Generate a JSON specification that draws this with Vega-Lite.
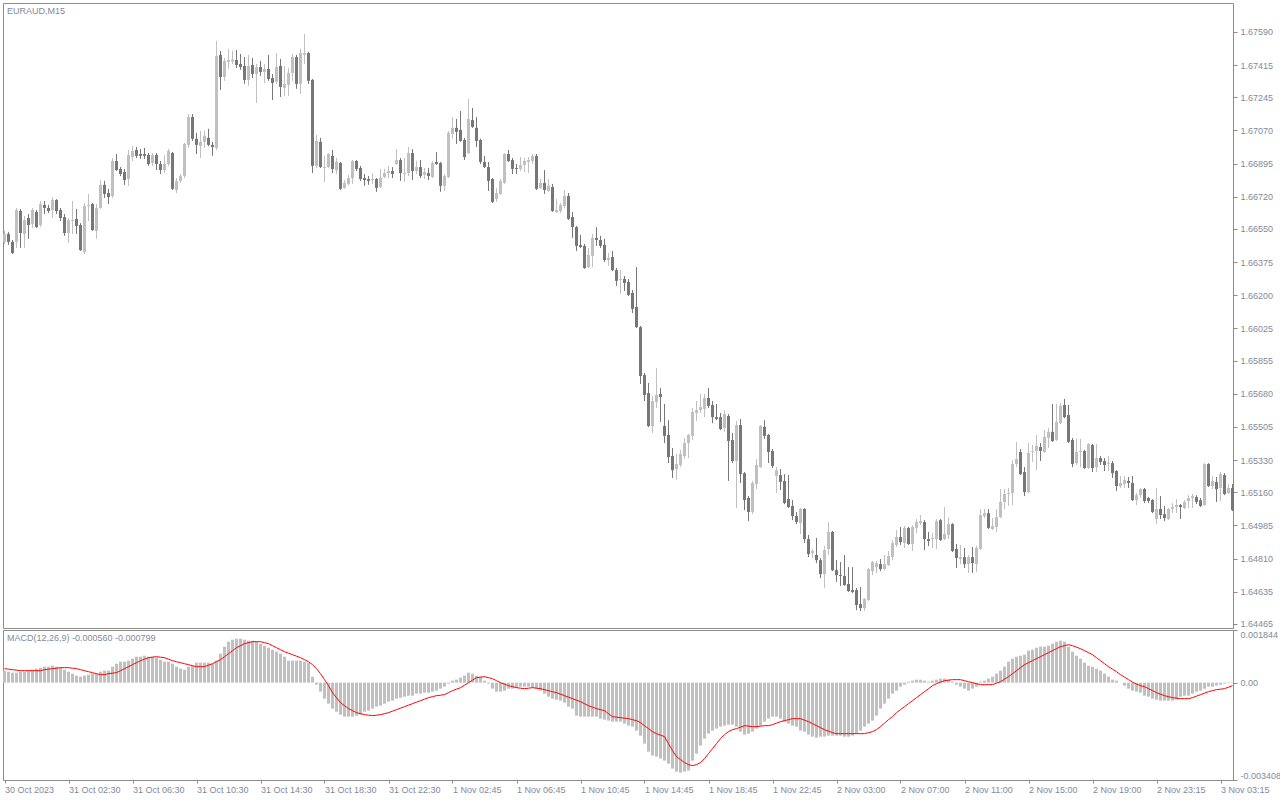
{
"$schema": "https://vega.github.io/schema/vega-lite/v6.json",
"padding": {"left": 2, "top": 2, "right": 0, "bottom": 0},
"autosize": {"type": "pad"},
"background": "white",
"spacing": 2,
"bounds": "flush",
"config": {"view": {"stroke": "#8c8c8c"}, "scale": {"continuousPadding": 0}, "axis": {"domain": false, "grid": false, "labelFont": "Liberation Sans", "labelFontSize": 9, "labelColor": "#7f8a9c", "tickColor": "#8c8c8c"}},
"data": {"values": [
{"i":0,"o":1.66482,"h":1.6654,"l":1.66471,"c":1.66524,"m":0.00042,"s":0.00049},
{"i":1,"o":1.66524,"h":1.66535,"l":1.66466,"c":1.66482,"m":0.000385,"s":0.000473},
{"i":2,"o":1.66482,"h":1.66492,"l":1.66418,"c":1.66423,"m":0.00035,"s":0.000455},
{"i":3,"o":1.66482,"h":1.66661,"l":1.6645,"c":1.6665,"m":0.00035,"s":0.000438},
{"i":4,"o":1.66645,"h":1.66656,"l":1.6645,"c":1.66529,"m":0.000385,"s":0.00042},
{"i":5,"o":1.66524,"h":1.66619,"l":1.6645,"c":1.66597,"m":0.000385,"s":0.00042},
{"i":6,"o":1.66608,"h":1.66629,"l":1.66498,"c":1.66571,"m":0.00042,"s":0.00042},
{"i":7,"o":1.66576,"h":1.66661,"l":1.66555,"c":1.6665,"m":0.000455,"s":0.00042},
{"i":8,"o":1.6664,"h":1.6665,"l":1.66555,"c":1.6656,"m":0.00049,"s":0.00042},
{"i":9,"o":1.66571,"h":1.66698,"l":1.6656,"c":1.66682,"m":0.000525,"s":0.00042},
{"i":10,"o":1.66677,"h":1.66698,"l":1.66629,"c":1.66661,"m":0.00056,"s":0.000455},
{"i":11,"o":1.66661,"h":1.66677,"l":1.66634,"c":1.66645,"m":0.00056,"s":0.000473},
{"i":12,"o":1.6665,"h":1.66719,"l":1.66608,"c":1.66703,"m":0.000595,"s":0.00049},
{"i":13,"o":1.66703,"h":1.66708,"l":1.66629,"c":1.66645,"m":0.00056,"s":0.000508},
{"i":14,"o":1.6665,"h":1.66661,"l":1.66592,"c":1.66608,"m":0.000525,"s":0.000525},
{"i":15,"o":1.66613,"h":1.66629,"l":1.66514,"c":1.66529,"m":0.000455,"s":0.000525},
{"i":16,"o":1.66529,"h":1.66608,"l":1.66476,"c":1.66597,"m":0.000385,"s":0.000525},
{"i":17,"o":1.66592,"h":1.66698,"l":1.66524,"c":1.66597,"m":0.000315,"s":0.000508},
{"i":18,"o":1.66603,"h":1.66656,"l":1.66524,"c":1.66566,"m":0.000245,"s":0.00049},
{"i":19,"o":1.66571,"h":1.66581,"l":1.66434,"c":1.66439,"m":0.00021,"s":0.000455},
{"i":20,"o":1.66429,"h":1.66687,"l":1.66418,"c":1.66672,"m":0.000245,"s":0.00042},
{"i":21,"o":1.66672,"h":1.66735,"l":1.66592,"c":1.66677,"m":0.00028,"s":0.000385},
{"i":22,"o":1.66682,"h":1.66687,"l":1.6654,"c":1.66544,"m":0.000315,"s":0.00035},
{"i":23,"o":1.6654,"h":1.66682,"l":1.66498,"c":1.66661,"m":0.000315,"s":0.000315},
{"i":24,"o":1.66661,"h":1.66808,"l":1.66656,"c":1.66783,"m":0.000385,"s":0.00028},
{"i":25,"o":1.66783,"h":1.66804,"l":1.66714,"c":1.66735,"m":0.00042,"s":0.00028},
{"i":26,"o":1.6674,"h":1.66762,"l":1.66682,"c":1.66719,"m":0.00042,"s":0.000315},
{"i":27,"o":1.66724,"h":1.66925,"l":1.66714,"c":1.66909,"m":0.00056,"s":0.000333},
{"i":28,"o":1.66909,"h":1.66946,"l":1.66856,"c":1.66861,"m":0.000665,"s":0.00035},
{"i":29,"o":1.66867,"h":1.66877,"l":1.6683,"c":1.6684,"m":0.000735,"s":0.00042},
{"i":30,"o":1.66851,"h":1.66867,"l":1.66783,"c":1.66808,"m":0.000735,"s":0.00049},
{"i":31,"o":1.66814,"h":1.66967,"l":1.66778,"c":1.66941,"m":0.00077,"s":0.00056},
{"i":32,"o":1.6693,"h":1.66988,"l":1.66909,"c":1.66962,"m":0.00084,"s":0.00063},
{"i":33,"o":1.66967,"h":1.66983,"l":1.66925,"c":1.66936,"m":0.00091,"s":0.0007},
{"i":34,"o":1.66946,"h":1.66972,"l":1.6692,"c":1.66936,"m":0.00091,"s":0.00077},
{"i":35,"o":1.66946,"h":1.66978,"l":1.6692,"c":1.66936,"m":0.000945,"s":0.000823},
{"i":36,"o":1.66941,"h":1.66951,"l":1.66883,"c":1.66893,"m":0.00091,"s":0.000875},
{"i":37,"o":1.66898,"h":1.66951,"l":1.66883,"c":1.66941,"m":0.00091,"s":0.000893},
{"i":38,"o":1.66941,"h":1.66951,"l":1.66861,"c":1.66893,"m":0.000875,"s":0.00091},
{"i":39,"o":1.66893,"h":1.66909,"l":1.6684,"c":1.66861,"m":0.000805,"s":0.000893},
{"i":40,"o":1.66861,"h":1.66941,"l":1.66845,"c":1.66893,"m":0.000735,"s":0.000875},
{"i":41,"o":1.66893,"h":1.66972,"l":1.66883,"c":1.66962,"m":0.000735,"s":0.000823},
{"i":42,"o":1.66951,"h":1.66956,"l":1.66756,"c":1.66762,"m":0.000665,"s":0.00077},
{"i":43,"o":1.66756,"h":1.66819,"l":1.6674,"c":1.66804,"m":0.00056,"s":0.000735},
{"i":44,"o":1.66804,"h":1.6684,"l":1.66793,"c":1.6683,"m":0.00049,"s":0.0007},
{"i":45,"o":1.6683,"h":1.67004,"l":1.66819,"c":1.66999,"m":0.000455,"s":0.000665},
{"i":46,"o":1.66994,"h":1.67157,"l":1.66978,"c":1.67141,"m":0.00056,"s":0.00063},
{"i":47,"o":1.67141,"h":1.67157,"l":1.67015,"c":1.67026,"m":0.000595,"s":0.000595},
{"i":48,"o":1.67026,"h":1.67057,"l":1.66946,"c":1.66994,"m":0.0007,"s":0.00056},
{"i":49,"o":1.66988,"h":1.67068,"l":1.66925,"c":1.6701,"m":0.0007,"s":0.00056},
{"i":50,"o":1.6701,"h":1.67068,"l":1.66978,"c":1.67042,"m":0.0007,"s":0.00056},
{"i":51,"o":1.67031,"h":1.67079,"l":1.66988,"c":1.66994,"m":0.0007,"s":0.000613},
{"i":52,"o":1.66994,"h":1.6701,"l":1.66936,"c":1.66983,"m":0.000665,"s":0.000665},
{"i":53,"o":1.66978,"h":1.67543,"l":1.66967,"c":1.67464,"m":0.00077,"s":0.000735},
{"i":54,"o":1.67469,"h":1.6749,"l":1.67284,"c":1.67352,"m":0.001015,"s":0.000805},
{"i":55,"o":1.67352,"h":1.67453,"l":1.67332,"c":1.67437,"m":0.00126,"s":0.00091},
{"i":56,"o":1.67432,"h":1.67501,"l":1.67395,"c":1.67442,"m":0.001435,"s":0.001015},
{"i":57,"o":1.67435,"h":1.6749,"l":1.67421,"c":1.67445,"m":0.001505,"s":0.00112},
{"i":58,"o":1.67442,"h":1.67495,"l":1.674,"c":1.67416,"m":0.00154,"s":0.001225},
{"i":59,"o":1.67421,"h":1.67474,"l":1.6739,"c":1.67405,"m":0.00154,"s":0.001295},
{"i":60,"o":1.67411,"h":1.67458,"l":1.67316,"c":1.67337,"m":0.001505,"s":0.001365},
{"i":61,"o":1.67337,"h":1.67469,"l":1.67306,"c":1.67411,"m":0.00147,"s":0.0014},
{"i":62,"o":1.67416,"h":1.67453,"l":1.67347,"c":1.67368,"m":0.00147,"s":0.001435},
{"i":63,"o":1.67368,"h":1.67421,"l":1.67215,"c":1.67405,"m":0.001435,"s":0.001435},
{"i":64,"o":1.67405,"h":1.67437,"l":1.67358,"c":1.67379,"m":0.001365,"s":0.001435},
{"i":65,"o":1.67379,"h":1.67421,"l":1.67321,"c":1.67395,"m":0.001295,"s":0.0014},
{"i":66,"o":1.67395,"h":1.67469,"l":1.67332,"c":1.67342,"m":0.001225,"s":0.001365},
{"i":67,"o":1.67347,"h":1.67368,"l":1.67231,"c":1.67321,"m":0.001155,"s":0.001295},
{"i":68,"o":1.67327,"h":1.67479,"l":1.67316,"c":1.67405,"m":0.001085,"s":0.001225},
{"i":69,"o":1.67411,"h":1.67448,"l":1.67247,"c":1.673,"m":0.001015,"s":0.001155},
{"i":70,"o":1.67295,"h":1.67411,"l":1.67252,"c":1.67316,"m":0.00091,"s":0.001085},
{"i":71,"o":1.67311,"h":1.674,"l":1.67252,"c":1.67374,"m":0.00077,"s":0.001033},
{"i":72,"o":1.67374,"h":1.67474,"l":1.67332,"c":1.67458,"m":0.00077,"s":0.00098},
{"i":73,"o":1.67458,"h":1.67469,"l":1.6729,"c":1.67316,"m":0.00077,"s":0.000928},
{"i":74,"o":1.67316,"h":1.67501,"l":1.67263,"c":1.67479,"m":0.00077,"s":0.000875},
{"i":75,"o":1.67469,"h":1.6758,"l":1.67421,"c":1.67479,"m":0.000735,"s":0.000805},
{"i":76,"o":1.67479,"h":1.67485,"l":1.67316,"c":1.67332,"m":0.0007,"s":0.000735},
{"i":77,"o":1.67337,"h":1.67342,"l":1.66845,"c":1.66883,"m":0.00021,"s":0.00063},
{"i":78,"o":1.66883,"h":1.67047,"l":1.66872,"c":1.67015,"m":-0.00007,"s":0.00049},
{"i":79,"o":1.6701,"h":1.67031,"l":1.66872,"c":1.66877,"m":-0.000315,"s":0.000315},
{"i":80,"o":1.66872,"h":1.66936,"l":1.66798,"c":1.66877,"m":-0.00056,"s":0.000105},
{"i":81,"o":1.66877,"h":1.66951,"l":1.66872,"c":1.66946,"m":-0.000735,"s":-0.000105},
{"i":82,"o":1.66936,"h":1.66967,"l":1.66845,"c":1.66867,"m":-0.00091,"s":-0.00035},
{"i":83,"o":1.66861,"h":1.66925,"l":1.6684,"c":1.66904,"m":-0.001015,"s":-0.000525},
{"i":84,"o":1.66898,"h":1.66904,"l":1.66756,"c":1.66762,"m":-0.00112,"s":-0.0007},
{"i":85,"o":1.66767,"h":1.66808,"l":1.66762,"c":1.66793,"m":-0.00119,"s":-0.000805},
{"i":86,"o":1.66788,"h":1.66835,"l":1.66778,"c":1.66819,"m":-0.00119,"s":-0.00091},
{"i":87,"o":1.66819,"h":1.66914,"l":1.66788,"c":1.66909,"m":-0.00119,"s":-0.00098},
{"i":88,"o":1.66909,"h":1.66914,"l":1.66856,"c":1.66867,"m":-0.001155,"s":-0.00105},
{"i":89,"o":1.66872,"h":1.66883,"l":1.66804,"c":1.66814,"m":-0.00112,"s":-0.001085},
{"i":90,"o":1.66819,"h":1.6684,"l":1.66778,"c":1.66808,"m":-0.001015,"s":-0.00112},
{"i":91,"o":1.66814,"h":1.6683,"l":1.66783,"c":1.66804,"m":-0.00098,"s":-0.001138},
{"i":92,"o":1.66808,"h":1.66845,"l":1.66788,"c":1.66814,"m":-0.00091,"s":-0.001155},
{"i":93,"o":1.66814,"h":1.66819,"l":1.66746,"c":1.66767,"m":-0.00084,"s":-0.001138},
{"i":94,"o":1.66772,"h":1.66867,"l":1.66767,"c":1.66819,"m":-0.000805,"s":-0.00112},
{"i":95,"o":1.66824,"h":1.66867,"l":1.66819,"c":1.66845,"m":-0.000735,"s":-0.001085},
{"i":96,"o":1.66845,"h":1.66883,"l":1.66819,"c":1.66856,"m":-0.000665,"s":-0.00105},
{"i":97,"o":1.66856,"h":1.66877,"l":1.66819,"c":1.6684,"m":-0.00063,"s":-0.000998},
{"i":98,"o":1.66893,"h":1.66972,"l":1.66888,"c":1.66914,"m":-0.00056,"s":-0.000945},
{"i":99,"o":1.66914,"h":1.66925,"l":1.66804,"c":1.66845,"m":-0.000525,"s":-0.000893},
{"i":100,"o":1.6684,"h":1.66925,"l":1.66798,"c":1.66845,"m":-0.00049,"s":-0.00084},
{"i":101,"o":1.66845,"h":1.66983,"l":1.6683,"c":1.66951,"m":-0.000455,"s":-0.000788},
{"i":102,"o":1.66951,"h":1.66972,"l":1.66808,"c":1.66856,"m":-0.000455,"s":-0.000735},
{"i":103,"o":1.66856,"h":1.66909,"l":1.6684,"c":1.66877,"m":-0.000385,"s":-0.000683},
{"i":104,"o":1.66877,"h":1.66914,"l":1.66819,"c":1.6683,"m":-0.000385,"s":-0.00063},
{"i":105,"o":1.66835,"h":1.66872,"l":1.66814,"c":1.66851,"m":-0.00035,"s":-0.000578},
{"i":106,"o":1.66845,"h":1.66872,"l":1.66808,"c":1.6683,"m":-0.00035,"s":-0.000525},
{"i":107,"o":1.66824,"h":1.66909,"l":1.66819,"c":1.66898,"m":-0.000315,"s":-0.00049},
{"i":108,"o":1.66904,"h":1.66956,"l":1.66888,"c":1.66893,"m":-0.00028,"s":-0.000455},
{"i":109,"o":1.66898,"h":1.66904,"l":1.66746,"c":1.66778,"m":-0.00021,"s":-0.000438},
{"i":110,"o":1.66778,"h":1.6684,"l":1.66751,"c":1.6683,"m":-0.00014,"s":-0.00042},
{"i":111,"o":1.66824,"h":1.67068,"l":1.66819,"c":1.67057,"m":-0.000035,"s":-0.00035},
{"i":112,"o":1.67052,"h":1.67141,"l":1.67026,"c":1.67084,"m":0.00007,"s":-0.00028},
{"i":113,"o":1.67084,"h":1.67131,"l":1.66999,"c":1.67063,"m":0.000105,"s":-0.000228},
{"i":114,"o":1.67073,"h":1.67173,"l":1.6701,"c":1.67015,"m":0.000175,"s":-0.000175},
{"i":115,"o":1.6702,"h":1.67031,"l":1.66914,"c":1.6693,"m":0.000245,"s":-0.000088},
{"i":116,"o":1.66951,"h":1.67237,"l":1.66946,"c":1.67131,"m":0.00035,"s":0},
{"i":117,"o":1.67125,"h":1.67189,"l":1.67084,"c":1.67089,"m":0.000315,"s":0.000088},
{"i":118,"o":1.67084,"h":1.67141,"l":1.66983,"c":1.67015,"m":0.000245,"s":0.000175},
{"i":119,"o":1.6702,"h":1.67026,"l":1.66893,"c":1.66904,"m":0.00021,"s":0.000193},
{"i":120,"o":1.66904,"h":1.66936,"l":1.66872,"c":1.66877,"m":0.00007,"s":0.00021},
{"i":121,"o":1.66877,"h":1.66904,"l":1.66751,"c":1.66804,"m":-0.000035,"s":0.000175},
{"i":122,"o":1.66814,"h":1.66819,"l":1.66687,"c":1.66693,"m":-0.00021,"s":0.00014},
{"i":123,"o":1.66708,"h":1.66767,"l":1.66693,"c":1.6674,"m":-0.000315,"s":0.00007},
{"i":124,"o":1.66735,"h":1.66814,"l":1.6673,"c":1.66804,"m":-0.000315,"s":0},
{"i":125,"o":1.66793,"h":1.66951,"l":1.66788,"c":1.66946,"m":-0.00028,"s":-0.000053},
{"i":126,"o":1.66946,"h":1.66967,"l":1.66904,"c":1.66909,"m":-0.00021,"s":-0.000105},
{"i":127,"o":1.66914,"h":1.66925,"l":1.6684,"c":1.66867,"m":-0.00021,"s":-0.00014},
{"i":128,"o":1.66872,"h":1.66893,"l":1.6684,"c":1.66867,"m":-0.000175,"s":-0.000175},
{"i":129,"o":1.66867,"h":1.6693,"l":1.66856,"c":1.66888,"m":-0.00014,"s":-0.000193},
{"i":130,"o":1.66888,"h":1.66925,"l":1.66851,"c":1.66909,"m":-0.00014,"s":-0.00021},
{"i":131,"o":1.66904,"h":1.6693,"l":1.66845,"c":1.66914,"m":-0.00014,"s":-0.000193},
{"i":132,"o":1.66909,"h":1.66946,"l":1.66893,"c":1.66936,"m":-0.000175,"s":-0.000175},
{"i":133,"o":1.66936,"h":1.66946,"l":1.66756,"c":1.66762,"m":-0.00021,"s":-0.000193},
{"i":134,"o":1.66767,"h":1.66814,"l":1.66762,"c":1.66793,"m":-0.00028,"s":-0.00021},
{"i":135,"o":1.66793,"h":1.66861,"l":1.66735,"c":1.66756,"m":-0.000385,"s":-0.000245},
{"i":136,"o":1.66751,"h":1.66814,"l":1.66746,"c":1.66778,"m":-0.00049,"s":-0.00028},
{"i":137,"o":1.66772,"h":1.66788,"l":1.6664,"c":1.66645,"m":-0.00056,"s":-0.000315},
{"i":138,"o":1.6664,"h":1.66708,"l":1.66634,"c":1.6665,"m":-0.000595,"s":-0.00035},
{"i":139,"o":1.66645,"h":1.66687,"l":1.66634,"c":1.66677,"m":-0.00063,"s":-0.000403},
{"i":140,"o":1.66672,"h":1.66756,"l":1.66661,"c":1.66724,"m":-0.0007,"s":-0.000455},
{"i":141,"o":1.66724,"h":1.6674,"l":1.66597,"c":1.66603,"m":-0.00084,"s":-0.000508},
{"i":142,"o":1.66613,"h":1.6664,"l":1.66503,"c":1.6656,"m":-0.00091,"s":-0.00056},
{"i":143,"o":1.6656,"h":1.66566,"l":1.66434,"c":1.66461,"m":-0.001155,"s":-0.000613},
{"i":144,"o":1.66466,"h":1.66519,"l":1.6645,"c":1.66455,"m":-0.00119,"s":-0.000665},
{"i":145,"o":1.66461,"h":1.66471,"l":1.66339,"c":1.66344,"m":-0.00119,"s":-0.000735},
{"i":146,"o":1.66349,"h":1.6645,"l":1.66344,"c":1.66413,"m":-0.00119,"s":-0.000805},
{"i":147,"o":1.66408,"h":1.66524,"l":1.66349,"c":1.66503,"m":-0.00119,"s":-0.000858},
{"i":148,"o":1.66503,"h":1.6656,"l":1.66461,"c":1.66492,"m":-0.00119,"s":-0.00091},
{"i":149,"o":1.66492,"h":1.66514,"l":1.6645,"c":1.66461,"m":-0.00126,"s":-0.000945},
{"i":150,"o":1.66466,"h":1.66498,"l":1.66376,"c":1.66386,"m":-0.001295,"s":-0.00098},
{"i":151,"o":1.66386,"h":1.66423,"l":1.66355,"c":1.66397,"m":-0.00133,"s":-0.001085},
{"i":152,"o":1.66402,"h":1.66434,"l":1.66328,"c":1.66333,"m":-0.001365,"s":-0.00119},
{"i":153,"o":1.66333,"h":1.66344,"l":1.6625,"c":1.66276,"m":-0.001365,"s":-0.001208},
{"i":154,"o":1.66281,"h":1.66333,"l":1.66207,"c":1.66286,"m":-0.001365,"s":-0.001225},
{"i":155,"o":1.66286,"h":1.66302,"l":1.66223,"c":1.66265,"m":-0.001435,"s":-0.001243},
{"i":156,"o":1.6627,"h":1.66286,"l":1.66196,"c":1.66202,"m":-0.001505,"s":-0.00126},
{"i":157,"o":1.66212,"h":1.66228,"l":1.66106,"c":1.66128,"m":-0.00154,"s":-0.001295},
{"i":158,"o":1.66138,"h":1.66349,"l":1.66027,"c":1.66032,"m":-0.00168,"s":-0.00133},
{"i":159,"o":1.66032,"h":1.66038,"l":1.65732,"c":1.65774,"m":-0.001855,"s":-0.0014},
{"i":160,"o":1.65779,"h":1.6579,"l":1.65642,"c":1.65674,"m":-0.002135,"s":-0.001505},
{"i":161,"o":1.65684,"h":1.65737,"l":1.65505,"c":1.6551,"m":-0.002415,"s":-0.00161},
{"i":162,"o":1.6551,"h":1.65669,"l":1.65473,"c":1.65642,"m":-0.002555,"s":-0.001715},
{"i":163,"o":1.65637,"h":1.65816,"l":1.65605,"c":1.65674,"m":-0.00259,"s":-0.001785},
{"i":164,"o":1.65679,"h":1.65711,"l":1.65531,"c":1.65663,"m":-0.00266,"s":-0.001838},
{"i":165,"o":1.6551,"h":1.65626,"l":1.6542,"c":1.65458,"m":-0.00273,"s":-0.00189},
{"i":166,"o":1.65463,"h":1.65541,"l":1.65314,"c":1.65346,"m":-0.002835,"s":-0.002135},
{"i":167,"o":1.65352,"h":1.65394,"l":1.65235,"c":1.65277,"m":-0.00301,"s":-0.00238},
{"i":168,"o":1.65283,"h":1.65362,"l":1.65225,"c":1.65309,"m":-0.003115,"s":-0.00259},
{"i":169,"o":1.65304,"h":1.65384,"l":1.65293,"c":1.65362,"m":-0.00315,"s":-0.002695},
{"i":170,"o":1.65352,"h":1.65447,"l":1.65336,"c":1.6542,"m":-0.003115,"s":-0.0028},
{"i":171,"o":1.6542,"h":1.65468,"l":1.65341,"c":1.65463,"m":-0.00308,"s":-0.00287},
{"i":172,"o":1.65458,"h":1.65605,"l":1.65436,"c":1.65584,"m":-0.00273,"s":-0.002905},
{"i":173,"o":1.65579,"h":1.65642,"l":1.65536,"c":1.65594,"m":-0.002485,"s":-0.00287},
{"i":174,"o":1.65594,"h":1.65679,"l":1.65579,"c":1.6561,"m":-0.002205,"s":-0.0028},
{"i":175,"o":1.656,"h":1.65679,"l":1.65557,"c":1.65658,"m":-0.00196,"s":-0.00266},
{"i":176,"o":1.65658,"h":1.65711,"l":1.65605,"c":1.65616,"m":-0.001785,"s":-0.002485},
{"i":177,"o":1.65621,"h":1.65642,"l":1.65525,"c":1.65557,"m":-0.00168,"s":-0.00231},
{"i":178,"o":1.65557,"h":1.65626,"l":1.65541,"c":1.65547,"m":-0.00161,"s":-0.002135},
{"i":179,"o":1.65557,"h":1.65579,"l":1.65489,"c":1.65494,"m":-0.00154,"s":-0.00196},
{"i":180,"o":1.65499,"h":1.65594,"l":1.65479,"c":1.65573,"m":-0.001505,"s":-0.00182},
{"i":181,"o":1.65563,"h":1.65573,"l":1.6522,"c":1.65431,"m":-0.00147,"s":-0.001715},
{"i":182,"o":1.65436,"h":1.65473,"l":1.65314,"c":1.65325,"m":-0.00147,"s":-0.001645},
{"i":183,"o":1.65325,"h":1.65536,"l":1.65077,"c":1.65515,"m":-0.00154,"s":-0.00161},
{"i":184,"o":1.65515,"h":1.65547,"l":1.65209,"c":1.65256,"m":-0.001715,"s":-0.001558},
{"i":185,"o":1.65261,"h":1.65267,"l":1.65066,"c":1.65119,"m":-0.00182,"s":-0.001505},
{"i":186,"o":1.6513,"h":1.6514,"l":1.65008,"c":1.65056,"m":-0.001785,"s":-0.001523},
{"i":187,"o":1.65056,"h":1.6522,"l":1.65045,"c":1.65209,"m":-0.001715,"s":-0.00154},
{"i":188,"o":1.65204,"h":1.65336,"l":1.65177,"c":1.65304,"m":-0.00161,"s":-0.00154},
{"i":189,"o":1.65293,"h":1.65515,"l":1.65288,"c":1.6551,"m":-0.001505,"s":-0.001523},
{"i":190,"o":1.65505,"h":1.65541,"l":1.65442,"c":1.65458,"m":-0.001365,"s":-0.001505},
{"i":191,"o":1.65463,"h":1.65468,"l":1.65314,"c":1.65373,"m":-0.00126,"s":-0.001505},
{"i":192,"o":1.65378,"h":1.65389,"l":1.65288,"c":1.65299,"m":-0.00119,"s":-0.00147},
{"i":193,"o":1.65246,"h":1.65293,"l":1.65156,"c":1.65277,"m":-0.00119,"s":-0.001418},
{"i":194,"o":1.65251,"h":1.65283,"l":1.65172,"c":1.65215,"m":-0.00126,"s":-0.001365},
{"i":195,"o":1.6522,"h":1.65256,"l":1.65098,"c":1.65103,"m":-0.001365,"s":-0.00133},
{"i":196,"o":1.65124,"h":1.65251,"l":1.65077,"c":1.65082,"m":-0.001435,"s":-0.001295},
{"i":197,"o":1.65088,"h":1.65119,"l":1.65013,"c":1.65035,"m":-0.001505,"s":-0.00126},
{"i":198,"o":1.65035,"h":1.65056,"l":1.64992,"c":1.65003,"m":-0.00154,"s":-0.00126},
{"i":199,"o":1.64997,"h":1.65077,"l":1.6494,"c":1.65072,"m":-0.00168,"s":-0.00126},
{"i":200,"o":1.65072,"h":1.65077,"l":1.64892,"c":1.64913,"m":-0.001715,"s":-0.001313},
{"i":201,"o":1.64913,"h":1.64935,"l":1.64818,"c":1.64834,"m":-0.00182,"s":-0.001365},
{"i":202,"o":1.64839,"h":1.64861,"l":1.64813,"c":1.6485,"m":-0.00189,"s":-0.001435},
{"i":203,"o":1.64829,"h":1.64919,"l":1.64786,"c":1.64802,"m":-0.001925,"s":-0.001505},
{"i":204,"o":1.64802,"h":1.64813,"l":1.64707,"c":1.64728,"m":-0.00189,"s":-0.001575},
{"i":205,"o":1.64728,"h":1.64877,"l":1.64655,"c":1.64855,"m":-0.00189,"s":-0.001645},
{"i":206,"o":1.64861,"h":1.65003,"l":1.64829,"c":1.64951,"m":-0.001855,"s":-0.001698},
{"i":207,"o":1.64951,"h":1.64956,"l":1.64744,"c":1.64749,"m":-0.001855,"s":-0.00175},
{"i":208,"o":1.64749,"h":1.64802,"l":1.64687,"c":1.64723,"m":-0.001855,"s":-0.001785},
{"i":209,"o":1.64723,"h":1.64792,"l":1.64666,"c":1.64718,"m":-0.001855,"s":-0.001785},
{"i":210,"o":1.64718,"h":1.64829,"l":1.64666,"c":1.64671,"m":-0.00189,"s":-0.001785},
{"i":211,"o":1.64676,"h":1.64765,"l":1.64634,"c":1.64639,"m":-0.00189,"s":-0.001785},
{"i":212,"o":1.64644,"h":1.64765,"l":1.64628,"c":1.64634,"m":-0.001855,"s":-0.001785},
{"i":213,"o":1.64644,"h":1.64655,"l":1.64538,"c":1.64565,"m":-0.001785,"s":-0.001785},
{"i":214,"o":1.6457,"h":1.6466,"l":1.64533,"c":1.64549,"m":-0.00168,"s":-0.001785},
{"i":215,"o":1.64549,"h":1.64602,"l":1.64533,"c":1.64597,"m":-0.00154,"s":-0.001785},
{"i":216,"o":1.64591,"h":1.6476,"l":1.64586,"c":1.64755,"m":-0.001435,"s":-0.00175},
{"i":217,"o":1.64744,"h":1.64797,"l":1.64723,"c":1.64792,"m":-0.00133,"s":-0.001715},
{"i":218,"o":1.64765,"h":1.64797,"l":1.64734,"c":1.64786,"m":-0.001155,"s":-0.001645},
{"i":219,"o":1.64781,"h":1.64808,"l":1.64744,"c":1.64755,"m":-0.00091,"s":-0.00154},
{"i":220,"o":1.64755,"h":1.64829,"l":1.64749,"c":1.64781,"m":-0.000735,"s":-0.001418},
{"i":221,"o":1.64776,"h":1.6485,"l":1.64771,"c":1.64824,"m":-0.00056,"s":-0.001295},
{"i":222,"o":1.64818,"h":1.64908,"l":1.64802,"c":1.64892,"m":-0.000385,"s":-0.00119},
{"i":223,"o":1.64882,"h":1.64961,"l":1.64871,"c":1.64924,"m":-0.00028,"s":-0.00105},
{"i":224,"o":1.64924,"h":1.64977,"l":1.64882,"c":1.64897,"m":-0.00014,"s":-0.000945},
{"i":225,"o":1.64892,"h":1.64982,"l":1.64866,"c":1.64972,"m":-0.00007,"s":-0.00084},
{"i":226,"o":1.64972,"h":1.64977,"l":1.64882,"c":1.64887,"m":0.000035,"s":-0.000735},
{"i":227,"o":1.64887,"h":1.64987,"l":1.6485,"c":1.64977,"m":0.00007,"s":-0.00063},
{"i":228,"o":1.64972,"h":1.65019,"l":1.64945,"c":1.65003,"m":0.000105,"s":-0.000525},
{"i":229,"o":1.64997,"h":1.6504,"l":1.64987,"c":1.65008,"m":0.000105,"s":-0.00042},
{"i":230,"o":1.65003,"h":1.65013,"l":1.64855,"c":1.64913,"m":0.00007,"s":-0.000315},
{"i":231,"o":1.64913,"h":1.64951,"l":1.64876,"c":1.64903,"m":0.000035,"s":-0.00021},
{"i":232,"o":1.64913,"h":1.64945,"l":1.64866,"c":1.64919,"m":0.00007,"s":-0.000105},
{"i":233,"o":1.64913,"h":1.65019,"l":1.64861,"c":1.65008,"m":0.000105,"s":-0.000035},
{"i":234,"o":1.65013,"h":1.65019,"l":1.64903,"c":1.64908,"m":0.00014,"s":0.000018},
{"i":235,"o":1.64913,"h":1.65082,"l":1.64908,"c":1.6494,"m":0.00014,"s":0.00007},
{"i":236,"o":1.64935,"h":1.65029,"l":1.64913,"c":1.64992,"m":0.000105,"s":0.000088},
{"i":237,"o":1.64992,"h":1.64997,"l":1.64845,"c":1.6485,"m":0.000035,"s":0.000105},
{"i":238,"o":1.64861,"h":1.64887,"l":1.6476,"c":1.64813,"m":-0.00007,"s":0.000105},
{"i":239,"o":1.64808,"h":1.64882,"l":1.64781,"c":1.64818,"m":-0.00014,"s":0.000105},
{"i":240,"o":1.64818,"h":1.64866,"l":1.6476,"c":1.64781,"m":-0.00021,"s":0.00007},
{"i":241,"o":1.64781,"h":1.64829,"l":1.64734,"c":1.64818,"m":-0.00028,"s":0.000035},
{"i":242,"o":1.64818,"h":1.64871,"l":1.64734,"c":1.64786,"m":-0.00021,"s":0},
{"i":243,"o":1.64781,"h":1.64877,"l":1.64739,"c":1.64866,"m":-0.00014,"s":-0.000035},
{"i":244,"o":1.64861,"h":1.65072,"l":1.64855,"c":1.6504,"m":0.000035,"s":-0.00007},
{"i":245,"o":1.65035,"h":1.65072,"l":1.65024,"c":1.6505,"m":0.00007,"s":-0.00007},
{"i":246,"o":1.6505,"h":1.65072,"l":1.64966,"c":1.64972,"m":0.00014,"s":-0.00007},
{"i":247,"o":1.64966,"h":1.65024,"l":1.64961,"c":1.64982,"m":0.00021,"s":-0.00007},
{"i":248,"o":1.64977,"h":1.65072,"l":1.64951,"c":1.65029,"m":0.000315,"s":-0.000018},
{"i":249,"o":1.65029,"h":1.65177,"l":1.65024,"c":1.65109,"m":0.00042,"s":0.000035},
{"i":250,"o":1.65109,"h":1.65177,"l":1.65072,"c":1.65151,"m":0.00056,"s":0.000123},
{"i":251,"o":1.65151,"h":1.65183,"l":1.65088,"c":1.65156,"m":0.000735,"s":0.00021},
{"i":252,"o":1.65156,"h":1.6533,"l":1.65093,"c":1.65309,"m":0.00084,"s":0.000315},
{"i":253,"o":1.65309,"h":1.65426,"l":1.65293,"c":1.65336,"m":0.00091,"s":0.00042},
{"i":254,"o":1.65373,"h":1.65389,"l":1.65251,"c":1.65256,"m":0.000945,"s":0.000525},
{"i":255,"o":1.65267,"h":1.65293,"l":1.6514,"c":1.65161,"m":0.00098,"s":0.00063},
{"i":256,"o":1.65161,"h":1.6542,"l":1.65156,"c":1.65368,"m":0.00112,"s":0.0007},
{"i":257,"o":1.65373,"h":1.6541,"l":1.6532,"c":1.65378,"m":0.001155,"s":0.00077},
{"i":258,"o":1.65378,"h":1.65463,"l":1.65277,"c":1.65405,"m":0.001225,"s":0.00084},
{"i":259,"o":1.65399,"h":1.6542,"l":1.65325,"c":1.65378,"m":0.00126,"s":0.00091},
{"i":260,"o":1.65373,"h":1.65489,"l":1.65368,"c":1.65452,"m":0.00126,"s":0.00098},
{"i":261,"o":1.65447,"h":1.65499,"l":1.65394,"c":1.65479,"m":0.001295,"s":0.00105},
{"i":262,"o":1.65479,"h":1.65626,"l":1.65426,"c":1.65431,"m":0.001365,"s":0.00112},
{"i":263,"o":1.65436,"h":1.65626,"l":1.65431,"c":1.65531,"m":0.001435,"s":0.00119},
{"i":264,"o":1.65525,"h":1.65631,"l":1.6552,"c":1.65616,"m":0.00147,"s":0.00126},
{"i":265,"o":1.65621,"h":1.65653,"l":1.65552,"c":1.65557,"m":0.001435,"s":0.001295},
{"i":266,"o":1.65568,"h":1.65621,"l":1.6542,"c":1.65426,"m":0.00126,"s":0.00133},
{"i":267,"o":1.65436,"h":1.65447,"l":1.65293,"c":1.65309,"m":0.001085,"s":0.001295},
{"i":268,"o":1.65314,"h":1.65442,"l":1.65304,"c":1.65373,"m":0.000945,"s":0.001243},
{"i":269,"o":1.65373,"h":1.65442,"l":1.65293,"c":1.65378,"m":0.00084,"s":0.00119},
{"i":270,"o":1.65378,"h":1.65384,"l":1.65283,"c":1.65288,"m":0.0007,"s":0.00112},
{"i":271,"o":1.65288,"h":1.6542,"l":1.65283,"c":1.65415,"m":0.000595,"s":0.00105},
{"i":272,"o":1.6541,"h":1.65415,"l":1.65267,"c":1.65288,"m":0.00056,"s":0.00098},
{"i":273,"o":1.65293,"h":1.65415,"l":1.65267,"c":1.65341,"m":0.00049,"s":0.000875},
{"i":274,"o":1.65341,"h":1.65352,"l":1.65304,"c":1.6532,"m":0.00042,"s":0.00077},
{"i":275,"o":1.65325,"h":1.65341,"l":1.65272,"c":1.65304,"m":0.000315,"s":0.000665},
{"i":276,"o":1.65309,"h":1.65352,"l":1.65272,"c":1.65314,"m":0.00021,"s":0.00056},
{"i":277,"o":1.65314,"h":1.65325,"l":1.65235,"c":1.65261,"m":0.000105,"s":0.000473},
{"i":278,"o":1.65272,"h":1.65277,"l":1.65167,"c":1.65193,"m":0.00007,"s":0.000385},
{"i":279,"o":1.65193,"h":1.65246,"l":1.65183,"c":1.65209,"m":0,"s":0.00028},
{"i":280,"o":1.65204,"h":1.65246,"l":1.65183,"c":1.65225,"m":-0.000105,"s":0.000193},
{"i":281,"o":1.6522,"h":1.65241,"l":1.65183,"c":1.65209,"m":-0.00021,"s":0.000105},
{"i":282,"o":1.65209,"h":1.65246,"l":1.65114,"c":1.65119,"m":-0.00028,"s":0.000018},
{"i":283,"o":1.65119,"h":1.65156,"l":1.65093,"c":1.65145,"m":-0.000315,"s":-0.000053},
{"i":284,"o":1.65145,"h":1.65183,"l":1.6513,"c":1.65177,"m":-0.00035,"s":-0.000105},
{"i":285,"o":1.65177,"h":1.65183,"l":1.65103,"c":1.65114,"m":-0.000455,"s":-0.00014},
{"i":286,"o":1.6513,"h":1.65135,"l":1.65103,"c":1.65114,"m":-0.00049,"s":-0.00021},
{"i":287,"o":1.65119,"h":1.65124,"l":1.6505,"c":1.65056,"m":-0.00056,"s":-0.00028},
{"i":288,"o":1.65019,"h":1.65183,"l":1.64992,"c":1.65072,"m":-0.000595,"s":-0.00035},
{"i":289,"o":1.65072,"h":1.6514,"l":1.65019,"c":1.6504,"m":-0.00063,"s":-0.000403},
{"i":290,"o":1.65045,"h":1.65088,"l":1.65008,"c":1.65024,"m":-0.00063,"s":-0.000455},
{"i":291,"o":1.65019,"h":1.65077,"l":1.65013,"c":1.65072,"m":-0.00063,"s":-0.00049},
{"i":292,"o":1.65072,"h":1.65103,"l":1.6505,"c":1.65082,"m":-0.00063,"s":-0.000525},
{"i":293,"o":1.65082,"h":1.65124,"l":1.6505,"c":1.65093,"m":-0.000595,"s":-0.000543},
{"i":294,"o":1.65093,"h":1.65098,"l":1.65019,"c":1.65082,"m":-0.00049,"s":-0.00056},
{"i":295,"o":1.65077,"h":1.65119,"l":1.65072,"c":1.65109,"m":-0.000455,"s":-0.00056},
{"i":296,"o":1.65114,"h":1.65145,"l":1.65077,"c":1.6513,"m":-0.000455,"s":-0.00056},
{"i":297,"o":1.6513,"h":1.65151,"l":1.65077,"c":1.6514,"m":-0.000385,"s":-0.000525},
{"i":298,"o":1.65135,"h":1.65145,"l":1.65098,"c":1.65109,"m":-0.000315,"s":-0.000473},
{"i":299,"o":1.65119,"h":1.6513,"l":1.65082,"c":1.65088,"m":-0.00028,"s":-0.00042},
{"i":300,"o":1.65093,"h":1.65314,"l":1.65088,"c":1.65309,"m":-0.00021,"s":-0.000368},
{"i":301,"o":1.65309,"h":1.65314,"l":1.65188,"c":1.65193,"m":-0.00014,"s":-0.000315},
{"i":302,"o":1.65193,"h":1.65246,"l":1.65177,"c":1.6522,"m":-0.00014,"s":-0.00028},
{"i":303,"o":1.65215,"h":1.65241,"l":1.65109,"c":1.65177,"m":-0.000105,"s":-0.000245},
{"i":304,"o":1.65183,"h":1.65267,"l":1.65114,"c":1.65256,"m":-0.00007,"s":-0.000228},
{"i":305,"o":1.65251,"h":1.65261,"l":1.65145,"c":1.65151,"m":-0.000035,"s":-0.00021},
{"i":306,"o":1.65156,"h":1.65204,"l":1.65151,"c":1.65183,"m":0.000018,"s":-0.000158},
{"i":307,"o":1.65183,"h":1.65204,"l":1.65061,"c":1.65066,"m":0.000018,"s":-0.000105}
]},
"vconcat": [
{
"width": 1230, "height": 625,
"layer": [
{"mark": {"type": "rule", "strokeWidth": 1},
 "encoding": {
  "x": {"field": "i", "type": "quantitative", "scale": {"domain": [-0.375, 307.125], "nice": false, "zero": false, "padding": 0}, "axis": null},
  "y": {"field": "l", "type": "quantitative", "scale": {"domain": [1.644437, 1.67743], "nice": false, "zero": false, "padding": 0},
        "axis": {"orient": "right", "values": [1.6759,1.67415,1.67245,1.6707,1.66895,1.6672,1.6655,1.66375,1.662,1.66025,1.65855,1.6568,1.65505,1.6533,1.6516,1.64985,1.6481,1.64635,1.64465], "format": ".5f", "title": null, "tickSize": 4, "labelPadding": 3, "labelOverlap": false, "labelFlush": false, "labelBound": false}},
  "y2": {"field": "h"},
  "color": {"condition": {"test": "datum.c >= datum.o", "value": "#c0c0c0"}, "value": "#777777"}
 }},
{"mark": {"type": "bar", "size": 3},
 "encoding": {
  "x": {"field": "i", "type": "quantitative", "scale": {"domain": [-0.375, 307.125], "nice": false, "zero": false, "padding": 0}, "axis": null},
  "y": {"field": "o", "type": "quantitative", "scale": {"domain": [1.644437, 1.67743], "nice": false, "zero": false, "padding": 0},
        "axis": {"orient": "right", "values": [1.6759,1.67415,1.67245,1.6707,1.66895,1.6672,1.6655,1.66375,1.662,1.66025,1.65855,1.6568,1.65505,1.6533,1.6516,1.64985,1.6481,1.64635,1.64465], "format": ".5f", "title": null, "tickSize": 4, "labelPadding": 3, "labelOverlap": false, "labelFlush": false, "labelBound": false}},
  "y2": {"field": "c"},
  "color": {"condition": {"test": "datum.c >= datum.o", "value": "#c0c0c0"}, "value": "#777777"}
 }},
{"data": {"values": [{"t": "EURAUD,M15"}]},
 "mark": {"type": "text", "align": "left", "baseline": "middle", "font": "Liberation Sans", "fontSize": 9, "color": "#7f8a9c"},
 "encoding": {
  "x": {"datum": 0.625, "type": "quantitative", "scale": {"domain": [-0.375, 307.125], "nice": false, "zero": false, "padding": 0}, "axis": null},
  "y": {"datum": 1.67701, "type": "quantitative", "scale": {"domain": [1.644437, 1.67743], "nice": false, "zero": false, "padding": 0},
        "axis": {"orient": "right", "values": [1.6759,1.67415,1.67245,1.6707,1.66895,1.6672,1.6655,1.66375,1.662,1.66025,1.65855,1.6568,1.65505,1.6533,1.6516,1.64985,1.6481,1.64635,1.64465], "format": ".5f", "title": null, "tickSize": 4, "labelPadding": 3, "labelOverlap": false, "labelFlush": false, "labelBound": false}},
  "text": {"field": "t"}
 }}
]
},
{
"width": 1230, "height": 150,
"layer": [
{"mark": {"type": "bar", "size": 3, "color": "#c0c0c0"},
 "encoding": {
  "x": {"field": "i", "type": "quantitative", "scale": {"domain": [-0.375, 307.125], "nice": false, "zero": false, "padding": 0},
        "axis": {"orient": "bottom", "values": [0,16,32,48,64,80,96,112,128,144,160,176,192,208,224,240,256,272,288,304], "labelExpr": "['30 Oct 2023','31 Oct 02:30','31 Oct 06:30','31 Oct 10:30','31 Oct 14:30','31 Oct 18:30','31 Oct 22:30','1 Nov 02:45','1 Nov 06:45','1 Nov 10:45','1 Nov 14:45','1 Nov 18:45','1 Nov 22:45','2 Nov 03:00','2 Nov 07:00','2 Nov 11:00','2 Nov 15:00','2 Nov 19:00','2 Nov 23:15','3 Nov 03:15'][round(datum.value/16)]", "title": null, "tickSize": 3, "labelAlign": "left", "labelBaseline": "top", "labelPadding": 2, "labelOverlap": false, "labelFlush": false, "labelBound": false}},
  "y": {"field": "m", "type": "quantitative", "scale": {"domain": [-0.003408, 0.001844], "nice": false, "zero": false, "padding": 0},
        "axis": {"orient": "right", "values": [0.001844, 0, -0.003408], "labelExpr": "datum.value == 0 ? '0.00' : (datum.value < 0 ? '-' + format(-datum.value, '.6f') : format(datum.value, '.6f'))", "title": null, "tickSize": 4, "labelPadding": 3, "labelOverlap": false, "labelFlush": true, "labelBound": false}},
  "y2": {"datum": 0}
 }},
{"mark": {"type": "line", "color": "#ff0000", "strokeWidth": 1},
 "encoding": {
  "x": {"field": "i", "type": "quantitative", "scale": {"domain": [-0.375, 307.125], "nice": false, "zero": false, "padding": 0},
        "axis": {"orient": "bottom", "values": [0,16,32,48,64,80,96,112,128,144,160,176,192,208,224,240,256,272,288,304], "labelExpr": "['30 Oct 2023','31 Oct 02:30','31 Oct 06:30','31 Oct 10:30','31 Oct 14:30','31 Oct 18:30','31 Oct 22:30','1 Nov 02:45','1 Nov 06:45','1 Nov 10:45','1 Nov 14:45','1 Nov 18:45','1 Nov 22:45','2 Nov 03:00','2 Nov 07:00','2 Nov 11:00','2 Nov 15:00','2 Nov 19:00','2 Nov 23:15','3 Nov 03:15'][round(datum.value/16)]", "title": null, "tickSize": 3, "labelAlign": "left", "labelBaseline": "top", "labelPadding": 2, "labelOverlap": false, "labelFlush": false, "labelBound": false}},
  "y": {"field": "s", "type": "quantitative", "scale": {"domain": [-0.003408, 0.001844], "nice": false, "zero": false, "padding": 0},
        "axis": {"orient": "right", "values": [0.001844, 0, -0.003408], "labelExpr": "datum.value == 0 ? '0.00' : (datum.value < 0 ? '-' + format(-datum.value, '.6f') : format(datum.value, '.6f'))", "title": null, "tickSize": 4, "labelPadding": 3, "labelOverlap": false, "labelFlush": true, "labelBound": false}}
 }},
{"data": {"values": [{"t": "MACD(12,26,9) -0.000560 -0.000799"}]},
 "mark": {"type": "text", "align": "left", "baseline": "middle", "font": "Liberation Sans", "fontSize": 9, "color": "#7f8a9c"},
 "encoding": {
  "x": {"datum": 0.625, "type": "quantitative", "scale": {"domain": [-0.375, 307.125], "nice": false, "zero": false, "padding": 0},
        "axis": {"orient": "bottom", "values": [0,16,32,48,64,80,96,112,128,144,160,176,192,208,224,240,256,272,288,304], "labelExpr": "['30 Oct 2023','31 Oct 02:30','31 Oct 06:30','31 Oct 10:30','31 Oct 14:30','31 Oct 18:30','31 Oct 22:30','1 Nov 02:45','1 Nov 06:45','1 Nov 10:45','1 Nov 14:45','1 Nov 18:45','1 Nov 22:45','2 Nov 03:00','2 Nov 07:00','2 Nov 11:00','2 Nov 15:00','2 Nov 19:00','2 Nov 23:15','3 Nov 03:15'][round(datum.value/16)]", "title": null, "tickSize": 3, "labelAlign": "left", "labelBaseline": "top", "labelPadding": 2, "labelOverlap": false, "labelFlush": false, "labelBound": false}},
  "y": {"datum": 0.00155, "type": "quantitative", "scale": {"domain": [-0.003408, 0.001844], "nice": false, "zero": false, "padding": 0},
        "axis": {"orient": "right", "values": [0.001844, 0, -0.003408], "labelExpr": "datum.value == 0 ? '0.00' : (datum.value < 0 ? '-' + format(-datum.value, '.6f') : format(datum.value, '.6f'))", "title": null, "tickSize": 4, "labelPadding": 3, "labelOverlap": false, "labelFlush": true, "labelBound": false}},
  "text": {"field": "t"}
 }}
]
}
]
}
